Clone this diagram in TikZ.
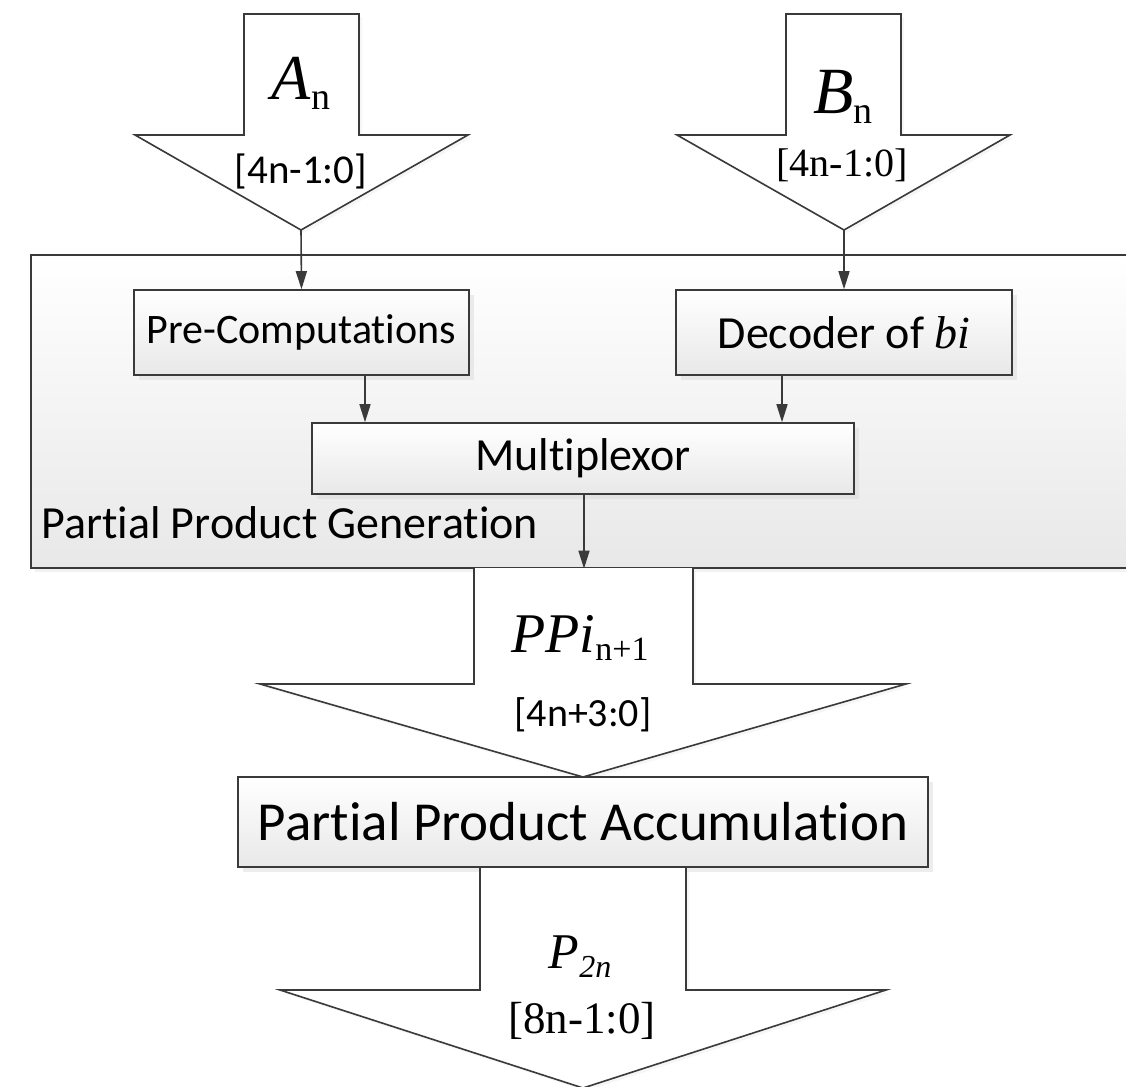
\documentclass[tikz,border=0pt]{standalone}
\usepackage{fontspec}
\setmainfont{Carlito}[Ligatures={NoCommon,NoContextual}]
\newfontfamily\tms{Liberation Serif}
\usetikzlibrary{shadows,arrows.meta}
\definecolor{ln}{HTML}{3A3A3A}
\newcommand{\fsz}[1]{\fontsize{#1}{#1}\selectfont}
\newcommand{\tii}{t\kern0pt i}
\tikzset{
  box/.style={draw=ln, line width=1.6pt, top color=white, bottom color=black!9,
    drop shadow={shadow xshift=5pt, shadow yshift=-5pt, fill=black!14},
    inner sep=0pt},
  bigbox/.style={draw=ln, line width=1.6pt, top color=white, bottom color=black!9,
    drop shadow={shadow xshift=4pt, shadow yshift=-4pt, fill=black!10}, inner sep=0pt},
  conn/.style={draw=ln, line width=1.6pt, -{Triangle[length=18pt,width=11pt]}},
  blockarrow/.style={draw=ln, line width=1.6pt, fill=white, line join=miter},
  blockfill/.style={fill=white, drop shadow={shadow xshift=3pt, shadow yshift=-3pt, fill=black!7}},
  blockline/.style={draw=ln, line width=1.6pt, line join=miter},
  lbl/.style={inner sep=0pt}
}
\begin{document}
\begin{tikzpicture}[x=1pt,y=-1pt]
\useasboundingbox (0,0) rectangle (1126,1086);

% ---- input arrows
\draw[blockarrow, drop shadow={shadow xshift=3pt, shadow yshift=-3pt, fill=black!7}]
  (244,14) -- (359,14) -- (359,135) -- (468,135) -- (301,230) -- (135,135) -- (244,135) -- cycle;
\coordinate (Atip) at (301,230);
\draw[blockarrow, drop shadow={shadow xshift=3pt, shadow yshift=-3pt, fill=black!7}]
  (786,14) -- (901,14) -- (901,135) -- (1010,135) -- (844,230) -- (677,135) -- (786,135) -- cycle;
\coordinate (Btip) at (844,230);

\node[lbl, anchor=base] (An) at (301,100)
  {\tms\fsz{64}\itshape A\raisebox{-10pt}{\fsz{38}\upshape n}};
\node[lbl] (Abits) at (301,171) {\fsz{41}[4n-1:0]};
\node[lbl, anchor=base] (Bn) at (843,114)
  {\tms\fsz{66}\itshape B\raisebox{-10pt}{\fsz{38}\upshape n}};
\node[lbl] (Bbits) at (842,165) {\tms\fsz{40}[4n-1:0]};

% ---- partial product generation block
\node[bigbox, anchor=north west, minimum width=1120pt, minimum height=313pt] (ppg) at (30,254) {};
\node[lbl, anchor=base west] (ppglabel) at (41,538) {\fsz{46}Par\tii al Product Genera\tii on};

\node[box, minimum width=335pt, minimum height=85pt] (pre) at (301.5,332.5) {\fsz{42}Pre-Computa\tii ons};
\node[box, minimum width=336pt, minimum height=85pt] (dec) at (844,332.5) {\fsz{46}Decoder of {\tms\itshape bi}};
\node[box, minimum width=542pt, minimum height=71pt] (mux) at (583,458.5) {\fsz{46}Multiplexor};

\coordinate (xa) at (365,0);
\coordinate (xb) at (782,0);
\coordinate (xc) at (584,0);
\draw[conn] (Atip) -- (pre.north);
\draw[conn] (Btip) -- (dec.north);
\draw[conn] (pre.south -| xa) -- (mux.north -| xa);
\draw[conn] (dec.south -| xb) -- (mux.north -| xb);
\draw[conn] (mux.south -| xc) -- (ppg.south -| xc);

% ---- PPi arrow
\path[blockfill] (474,568) -- (474,684) -- (260,684) -- (583,777) -- (906,684) -- (693,684) -- (693,568) -- cycle;
\draw[blockline] (474,567) -- (474,684) -- (260,684) -- (583,777) -- (906,684) -- (693,684) -- (693,567);
\node[lbl, anchor=base] (ppi) at (580,652)
  {\tms\fsz{56}\itshape PPi\raisebox{-8pt}{\fsz{34}\upshape n+1}};
\node[lbl] (ppibits) at (583,715) {\fsz{40}[4n+3:0]};

% ---- accumulation
\node[box, minimum width=690pt, minimum height=90pt] (ppa) at (583,822) {\fsz{55}Par\tii al Product Accumula\tii on};

% ---- P2n arrow
\path[blockfill] (480,868) -- (480,990) -- (280,990) -- (583,1088) -- (886,990) -- (686,990) -- (686,868) -- cycle;
\draw[blockline] (480,867) -- (480,990) -- (280,990) -- (583,1088) -- (886,990) -- (686,990) -- (686,867);
\node[lbl, anchor=base] (p2n) at (580,968)
  {\tms\fsz{50}\itshape P\raisebox{-9pt}{\fsz{32}2n}};
\node[lbl] (p2nbits) at (582,1021) {\tms\fsz{45}[8n-1:0]};
\end{tikzpicture}
\end{document}
